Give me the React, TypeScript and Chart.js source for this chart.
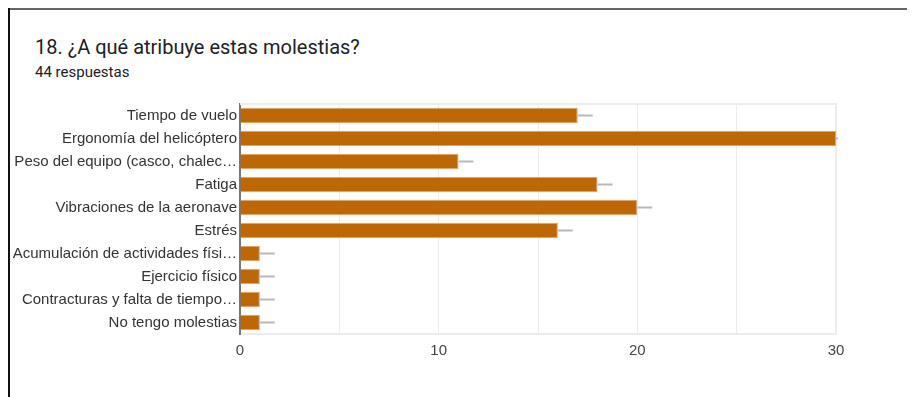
import React, { useEffect, useRef } from "react";
import { Chart, registerables } from "chart.js";

Chart.register(...registerables);

const categories = [
  "Tiempo de vuelo",
  "Ergonomía del helicóptero",
  "Peso del equipo (casco, chalec…",
  "Fatiga",
  "Vibraciones de la aeronave",
  "Estrés",
  "Acumulación de actividades físi…",
  "Ejercicio físico",
  "Contracturas y falta de tiempo…",
  "No tengo molestias",
];
const counts = [17, 30, 11, 18, 20, 16, 1, 1, 1, 1];
const xTickLabels = [0, 10, 20, 30];

const TITLE = "18. ¿A qué atribuye estas molestias?";
const SUBTITLE = "44 respuestas";

const whiskerPlugin = {
  id: "whisker",
  afterDatasetsDraw(chart: any) {
    const { ctx, chartArea, scales } = chart;
    const meta = chart.getDatasetMeta(0);
    ctx.save();
    ctx.beginPath();
    ctx.rect(chartArea.left, chartArea.top, chartArea.right - chartArea.left + 2, chartArea.bottom - chartArea.top);
    ctx.clip();
    ctx.strokeStyle = "#b8b8b8";
    ctx.lineWidth = 2;
    meta.data.forEach((bar: any, i: number) => {
      const v = counts[i];
      const x1 = scales.x.getPixelForValue(v);
      const x2 = scales.x.getPixelForValue(v + 0.75);
      ctx.beginPath();
      ctx.moveTo(x1, bar.y);
      ctx.lineTo(x2, bar.y);
      ctx.stroke();
    });
    ctx.restore();
  },
};

const framePlugin = {
  id: "frame",
  beforeDatasetsDraw(chart: any) {
    const { ctx, chartArea } = chart;
    ctx.save();
    ctx.strokeStyle = "#ececec";
    ctx.lineWidth = 2;
    ctx.beginPath();
    ctx.moveTo(chartArea.left, chartArea.top);
    ctx.lineTo(chartArea.right, chartArea.top);
    ctx.lineTo(chartArea.right, chartArea.bottom);
    ctx.stroke();
    ctx.restore();
  },
};

export default function App() {
  const ref = useRef<HTMLCanvasElement | null>(null);

  useEffect(() => {
    if (!ref.current) return;
    const chart = new Chart(ref.current, {
      type: "bar",
      data: {
        labels: categories,
        datasets: [
          {
            data: counts,
            backgroundColor: "#bd6707",
            borderColor: "#dfa467",
            borderWidth: 1,
            borderSkipped: "left",
            barPercentage: 0.68,
            categoryPercentage: 1,
          },
        ],
      },
      options: {
        indexAxis: "y",
        animation: false,
        responsive: false,
        maintainAspectRatio: false,
        layout: { padding: { left: 0, right: 79, top: 96, bottom: 0 } },
        plugins: {
          legend: { display: false },
          tooltip: { enabled: false },
        },
        scales: {
          x: {
            min: 0,
            max: 30,
            ticks: {
              stepSize: 5,
              color: "#444",
              font: { family: "Liberation Sans, Arial", size: 15 },
              padding: 8,
              maxRotation: 0,
              callback: (v: any) => (xTickLabels.includes(Number(v)) ? String(v) : ""),
            },
            grid: { color: "#ececec", lineWidth: 1, drawTicks: false },
            border: { display: true, color: "#ececec", width: 2 },
            afterFit: (s: any) => {
              s.height = 63;
            },
          },
          y: {
            ticks: {
              color: "#333",
              font: { family: "Liberation Sans, Arial", size: 15 },
              padding: 3,
              autoSkip: false,
            },
            grid: { display: false, drawTicks: false },
            border: { display: true, color: "#777", width: 2 },
            afterFit: (s: any) => {
              s.width = 232;
            },
          },
        },
      },
      plugins: [framePlugin, whiskerPlugin],
    });
    return () => chart.destroy();
  }, []);

  return (
    <div style={{ position: "relative", width: 907, height: 389, overflow: "hidden", fontFamily: "Roboto, Arial, sans-serif" }}>
      <div style={{ position: "absolute", left: 0, top: 0, width: 907, height: 2, background: "#666" }} />
      <div style={{ position: "absolute", left: 0, top: 0, width: 2, height: 389, background: "#111" }} />
      <div style={{ position: "absolute", left: 27, top: 27, fontSize: 20, color: "#202124", whiteSpace: "nowrap" }}>{TITLE}</div>
      <div style={{ position: "absolute", left: 27, top: 55, fontSize: 15, color: "#202124", whiteSpace: "nowrap" }}>{SUBTITLE}</div>
      <canvas ref={ref} width={907} height={389} style={{ position: "absolute", left: 0, top: 0 }} />
    </div>
  );
}
